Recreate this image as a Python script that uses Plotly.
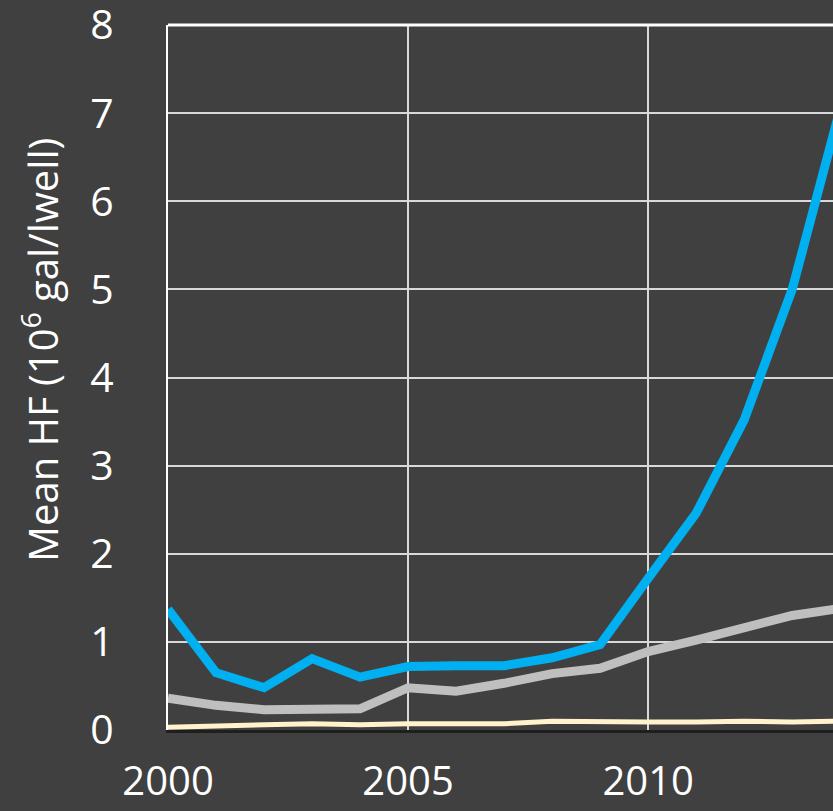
import plotly.graph_objects as go

# Years of record
years = list(range(2000, 2015))

# Mean hydraulic-fracturing water volume per well (10^6 gal/well)
blue_series = [1.37, 0.65, 0.48, 0.81, 0.60, 0.72, 0.73, 0.73, 0.82, 0.97, 1.72, 2.46, 3.52, 5.00, 7.05]
gray_series = [0.36, 0.28, 0.23, 0.24, 0.24, 0.48, 0.44, 0.53, 0.64, 0.70, 0.89, 1.02, 1.16, 1.30, 1.38]
cream_series = [0.03, 0.05, 0.06, 0.07, 0.06, 0.07, 0.07, 0.07, 0.10, 0.09, 0.09, 0.09, 0.10, 0.09, 0.10]

y_ticks = [0, 1, 2, 3, 4, 5, 6, 7, 8]
x_ticks = [2000, 2005, 2010]

BG = "#404040"
FONT = "Open Sans"

fig = go.Figure()
fig.add_trace(go.Scatter(x=years, y=cream_series, mode="lines",
                         line=dict(color="#FFF2CC", width=5), showlegend=False))
fig.add_trace(go.Scatter(x=years, y=gray_series, mode="lines",
                         line=dict(color="#BFBFBF", width=9), showlegend=False))
fig.add_trace(go.Scatter(x=years, y=blue_series, mode="lines",
                         line=dict(color="#00B0F0", width=9), showlegend=False))

fig.update_layout(
    width=833, height=811,
    paper_bgcolor=BG, plot_bgcolor=BG,
    margin=dict(l=168, r=0, t=25, b=81, autoexpand=False),
    font=dict(family=FONT, color="white", size=41),
    xaxis=dict(
        range=[2000, 2013.85],
        tickvals=x_ticks, ticktext=[str(v) for v in x_ticks],
        showgrid=True, gridcolor="#D9D9D9", gridwidth=2,
        showline=True, linecolor="#1E1E1E", linewidth=3,
        zeroline=False, ticks="", ticklabelstandoff=14,
        automargin=False,
        tickfont=dict(family=FONT, size=40, color="white"),
    ),
    yaxis=dict(
        range=[0, 8.0005],
        tickvals=y_ticks, ticktext=[str(v) for v in y_ticks],
        showgrid=True, gridcolor="#D9D9D9", gridwidth=2,
        showline=True, linecolor="white", linewidth=2,
        zeroline=False, ticks="", ticklabelstandoff=44,
        ticklabeloverflow="allow", automargin=False,
        tickfont=dict(family=FONT, size=41, color="white"),
    ),
    annotations=[dict(text="Mean HF (10<sup>6</sup> gal/lwell)", textangle=-90,
                      xref="paper", yref="paper", x=-0.1925, y=0.539,
                      xanchor="center", yanchor="middle", showarrow=False,
                      font=dict(family=FONT, size=40, color="white"))],
    shapes=[dict(type="line", xref="paper", yref="paper", x0=0, x1=1, y0=1, y1=1,
                 line=dict(color="white", width=3), layer="above")],
)

fig.write_html("out.html")
